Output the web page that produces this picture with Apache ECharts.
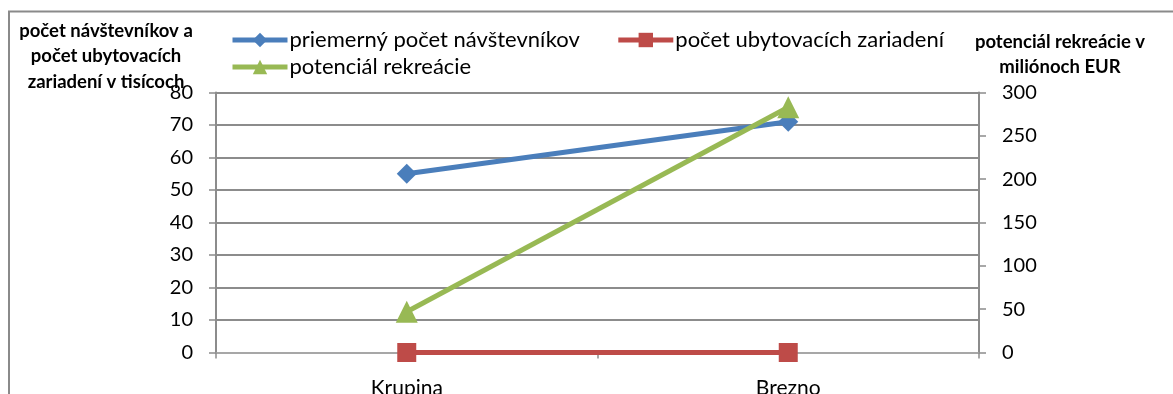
<!DOCTYPE html>
<html>
<head>
<meta charset="utf-8">
<script src="https://cdn.jsdelivr.net/npm/echarts@6/dist/echarts.min.js"></script>
<style>
  html, body { margin: 0; padding: 0; background: #fff; }
  #chart { width: 1173px; height: 394px; }
</style>
</head>
<body>
<div id="chart"></div>
<script>
// Regions compared
const categories = ['Krupina', 'Brezno'];

// Average number of visitors (thousands)
const visitors = [55, 71];
// Number of accommodation facilities (thousands)
const facilities = [0, 0];
// Recreation potential (million EUR)
const potential = [47, 283];

const seriesNames = [
  'priemerný počet návštevníkov',
  'počet ubytovacích zariadení',
  'potenciál rekreácie'
];

const leftAxisTitle = 'počet návštevníkov a\npočet ubytovacích\nzariadení v tisícoch';
const rightAxisTitle = 'potenciál rekreácie v\nmiliónoch EUR';

const FONT = 'Lato, "Open Sans", sans-serif';
const GRID_GRAY = '#8c8c8c';

const chart = echarts.init(document.getElementById('chart'), null, { renderer: 'canvas' });

const legendText = { fontFamily: FONT, fontSize: 22, color: '#000', padding: [0, 0, 0, -3] };

chart.setOption({
  animation: false,
  backgroundColor: '#ffffff',
  textStyle: { fontFamily: FONT, color: '#000' },
  grid: {
    left: 216, right: 194, top: 92.5, bottom: 41.5,
    containLabel: false, outerBoundsMode: 'none'
  },
  legend: [
    {
      data: [seriesNames[0], seriesNames[1]],
      left: 225, top: 24,
      itemWidth: 55, itemHeight: 18, itemGap: 36,
      lineStyle: { width: 5 },
      textStyle: legendText
    },
    {
      data: [seriesNames[2]],
      left: 225, top: 51,
      itemWidth: 55, itemHeight: 18,
      lineStyle: { width: 5 },
      textStyle: legendText
    }
  ],
  xAxis: {
    type: 'category',
    data: categories,
    boundaryGap: true,
    axisLine: { lineStyle: { color: '#b0b0b0', width: 1.5 } },
    axisTick: { show: true, length: 6, lineStyle: { color: GRID_GRAY, width: 1.5 } },
    axisLabel: { fontFamily: FONT, fontSize: 21, color: '#000', margin: 25 }
  },
  yAxis: [
    {
      type: 'value', min: 0, max: 80, interval: 10, position: 'left',
      axisLine: { show: true, lineStyle: { color: GRID_GRAY, width: 2 } },
      axisTick: { show: true, length: 7, lineStyle: { color: GRID_GRAY, width: 1.5 } },
      axisLabel: { fontFamily: FONT, fontSize: 20, color: '#000', margin: 23 },
      splitLine: { show: true, lineStyle: { color: GRID_GRAY, width: 2 } }
    },
    {
      type: 'value', min: 0, max: 300, interval: 50, position: 'right',
      axisLine: { show: true, lineStyle: { color: GRID_GRAY, width: 2 } },
      axisTick: { show: true, length: 7, lineStyle: { color: GRID_GRAY, width: 1.5 } },
      axisLabel: { fontFamily: FONT, fontSize: 20, color: '#000', margin: 23 },
      splitLine: { show: false }
    }
  ],
  series: [
    {
      name: seriesNames[0], type: 'line', yAxisIndex: 0, data: visitors,
      color: '#4a7ebb',
      symbol: 'diamond', symbolSize: 20,
      lineStyle: { width: 5, color: '#4a7ebb' },
      itemStyle: { color: '#4a7ebb' },
      z: 3
    },
    {
      name: seriesNames[1], type: 'line', yAxisIndex: 0, data: facilities,
      color: '#be4b48',
      symbol: 'rect', symbolSize: 19,
      lineStyle: { width: 5, color: '#be4b48' },
      itemStyle: { color: '#be4b48' },
      z: 3
    },
    {
      name: seriesNames[2], type: 'line', yAxisIndex: 1, data: potential,
      color: '#98b954',
      symbol: 'triangle', symbolSize: 22,
      lineStyle: { width: 5, color: '#98b954' },
      itemStyle: { color: '#98b954' },
      z: 4
    }
  ],
  graphic: [
    {
      type: 'rect', silent: true, z: -1,
      shape: { x: 9, y: 11.5, width: 1300, height: 500 },
      style: { fill: 'none', stroke: '#8a8a8a', lineWidth: 2 }
    },
    {
      type: 'text', x: 106, y: 18,
      style: {
        text: leftAxisTitle, fontFamily: FONT, fontWeight: 'bold', fontSize: 18.5,
        lineHeight: 25.5, fill: '#000', align: 'center'
      }
    },
    {
      type: 'text', x: 1060, y: 29,
      style: {
        text: rightAxisTitle, fontFamily: FONT, fontWeight: 'bold', fontSize: 18.5,
        lineHeight: 25.5, fill: '#000', align: 'center'
      }
    }
  ]
});
</script>
</body>
</html>
